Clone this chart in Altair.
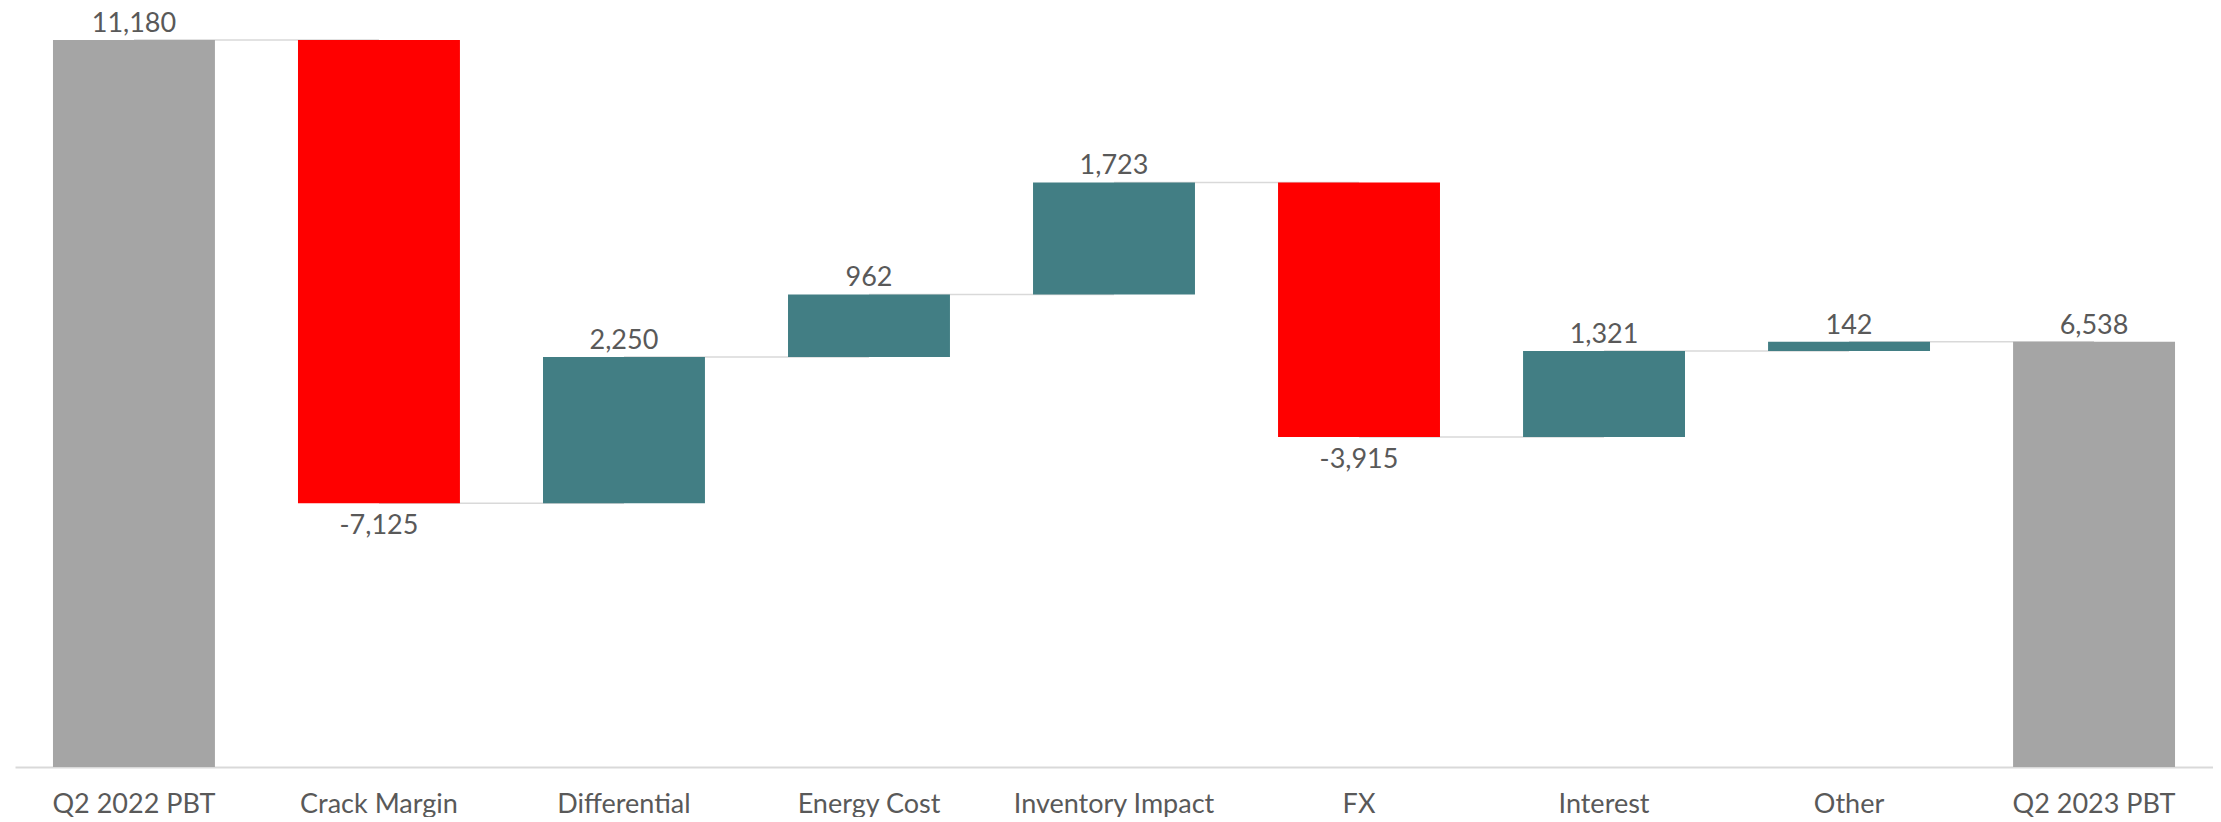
import altair as alt
import pandas as pd

categories = ["Q2 2022 PBT", "Crack Margin", "Differential", "Energy Cost",
              "Inventory Impact", "FX", "Interest", "Other", "Q2 2023 PBT"]
values = [11180, -7125, 2250, 962, 1723, -3915, 1321, 142, 6538]
kinds = ["total", "delta", "delta", "delta", "delta", "delta", "delta", "delta", "total"]

GRAY = "#A5A5A5"
RED = "#FF0000"
TEAL = "#427E84"
TXT = "#595959"
FONT = "Lato"

rows = []
running = 0
for c, v, k in zip(categories, values, kinds):
    if k == "total":
        start, end = 0, v
    else:
        start, end = running, running + v
    running = end
    if k == "total":
        col, pos = GRAY, "above"
    elif v >= 0:
        col, pos = TEAL, "above"
    else:
        col, pos = RED, "below"
    rows.append(dict(cat=c, start=start, end=end, lo=min(start, end), hi=max(start, end),
                     color=col, pos=pos, label=f"{v:,}"))
df = pd.DataFrame(rows)

conn = pd.DataFrame([
    dict(frm=categories[i], to=categories[i + 1], level=rows[i]["end"])
    for i in range(len(categories) - 1)
])

xscale = alt.Scale(domain=categories, paddingInner=0.339, paddingOuter=0.155)
yscale = alt.Scale(domain=[0, 11180], nice=False, zero=True)

xaxis = alt.Axis(title=None, labelAngle=0, labelFont=FONT, labelFontSize=27,
                 labelColor=TXT, ticks=False, domainColor="#D9D9D9", domainWidth=2,
                 labelPadding=24, grid=False, labelLimit=0)

rules = alt.Chart(conn).mark_rule(color="#D9D9D9", strokeWidth=1.5).encode(
    x=alt.X("frm:N", scale=xscale, axis=xaxis, sort=categories),
    x2="to:N",
    y=alt.Y("level:Q", scale=yscale, axis=None),
)

bars = alt.Chart(df).mark_bar().encode(
    x=alt.X("cat:N", scale=xscale, axis=xaxis, sort=categories),
    y=alt.Y("lo:Q", scale=yscale, axis=None),
    y2="hi:Q",
    color=alt.Color("color:N", scale=None, legend=None),
)

above = alt.Chart(df).transform_filter(alt.datum.pos == "above").mark_text(
    font=FONT, fontSize=27, color=TXT, baseline="alphabetic", dy=-8
).encode(
    x=alt.X("cat:N", scale=xscale, axis=xaxis, sort=categories),
    y=alt.Y("hi:Q", scale=yscale, axis=None),
    text="label:N",
)

below = alt.Chart(df).transform_filter(alt.datum.pos == "below").mark_text(
    font=FONT, fontSize=27, color=TXT, baseline="top", dy=10
).encode(
    x=alt.X("cat:N", scale=xscale, axis=xaxis, sort=categories),
    y=alt.Y("lo:Q", scale=yscale, axis=None),
    text="label:N",
)

chart = alt.layer(rules, bars, above, below).properties(
    width=2198,
    height=727,
    padding={"left": 7, "top": 32, "right": 0, "bottom": 50},
    autosize=alt.AutoSizeParams(type="none"),
    background="white",
).configure_view(stroke=None)

chart.save("out.html", embed_options={"renderer": "svg", "actions": False})
